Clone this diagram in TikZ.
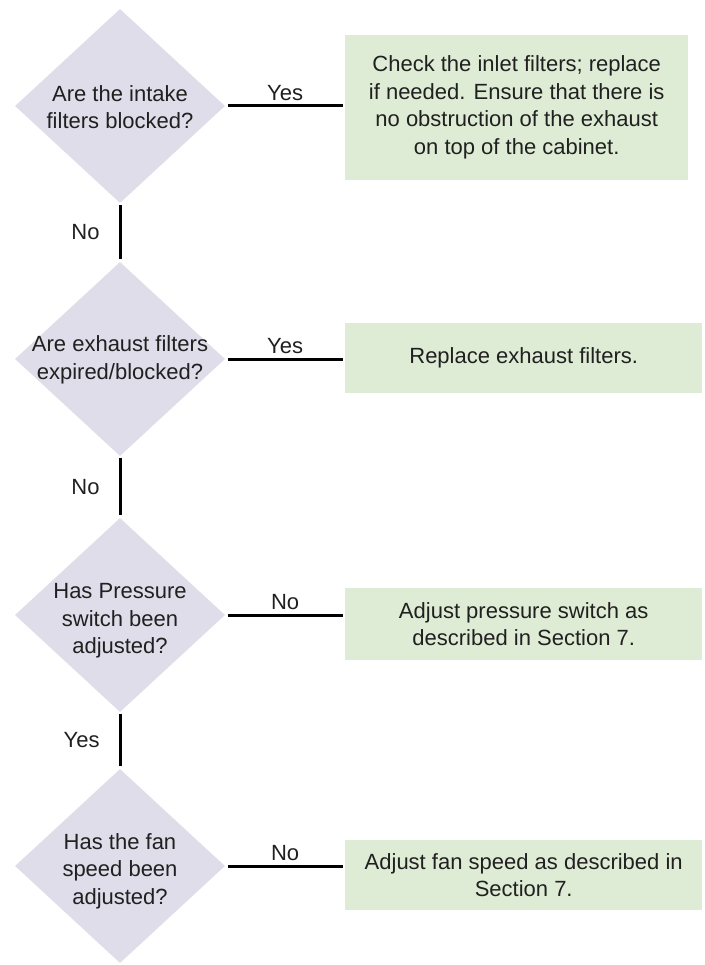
\documentclass[tikz,border=0pt]{standalone}
\usepackage{fontspec}
\setmainfont{Liberation Sans}
\usetikzlibrary{shapes.geometric}
\definecolor{askfill}{RGB}{222,221,233}
\definecolor{dofill}{RGB}{223,236,213}
\definecolor{inkgray}{RGB}{32,32,32}
\begin{document}
\begin{tikzpicture}[x=1pt, y=1pt, line join=round, text=inkgray,
		font=\fontsize{22}{27.5}\selectfont,
		ask/.style={diamond, fill=askfill, minimum width=210pt, minimum height=194pt, inner sep=0pt},
		asktext/.style={align=center, inner sep=0pt},
		todo/.style={rectangle, fill=dofill, anchor=west, align=center, inner sep=0pt, minimum width=357pt},
		link/.style={line width=3pt}]
				\def \qx{120} \def \bx{345}
				\useasboundingbox (0,0) rectangle (704,-965);
				% questions
				\node[ask] (q1) at (\qx,-106) {};
				\node[ask] (q2) at (\qx,-359) {};
				\node[ask] (q3) at (\qx,-615) {};
				\node[ask] (q4) at (\qx,-866) {};
				\node[asktext] at ([yshift=-1pt]q1) {Are the intake\\filters blocked?};
				\node[asktext] at ([yshift=-1pt]q2) {Are exhaust filters\\expired/blocked?};
				\node[asktext] at ([yshift=-6pt]q3) {Has Pressure\\switch been\\adjusted?};
				\node[asktext] at ([yshift=-5pt]q4) {Has the fan\\speed been\\adjusted?};
				% actions
				\node[todo, minimum width=343pt, minimum height=145pt] (a1) at (\bx,-107.5)
				{Check the inlet filters; replace\\if needed. Ensure that there is\\no obstruction of the exhaust\\on top of the cabinet.};
				\node[todo, minimum height=70pt] (a2) at (\bx,-358) {Replace exhaust filters.};
				\node[todo, minimum height=72pt] (a3) at (\bx,-624) {Adjust pressure switch as\\described in Section 7.};
				\node[todo, minimum height=70pt] (a4) at (\bx,-875) {Adjust fan speed as described in\\Section 7.};
				% connectors
				\foreach \q/\a/\t in {q1/a1/Yes,q2/a2/Yes,q3/a3/No,q4/a4/No}
				\draw[link, shorten <=3pt, shorten >=2pt] (\q.east) -- node[above, inner sep=4pt] {\t} (\q.east -| \a.west);
				\foreach \u/\v/\t in {q1/q2/No,q2/q3/No,q3/q4/Yes}
				\draw[link, shorten <=2pt, shorten >=3pt] (\u.south) -- node[left=19pt, inner sep=0pt] {\t} (\v.north);
\end{tikzpicture}
\end{document}
